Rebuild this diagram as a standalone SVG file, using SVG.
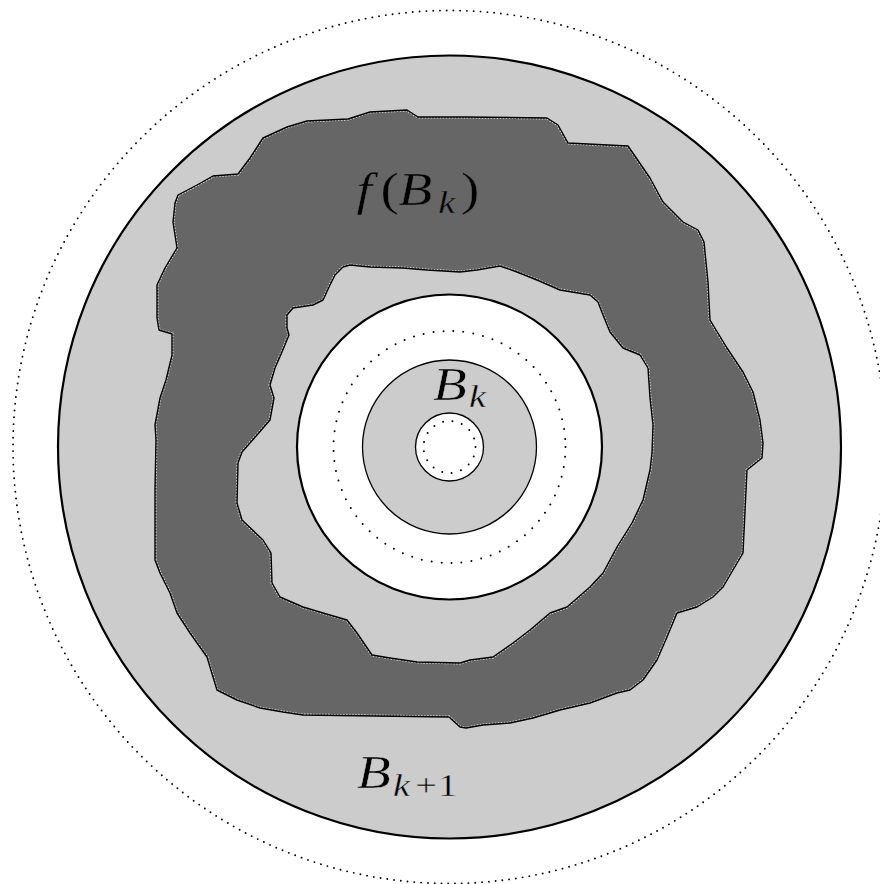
<svg xmlns="http://www.w3.org/2000/svg" width="880" height="884" viewBox="0 0 880 884">
<style>
.dot{fill:none;stroke:#000;stroke-linecap:round}
.lbl{font-family:"Liberation Serif","Times New Roman",serif;fill:#000;stroke-width:0.4;font-size:46px}
.it{font-style:italic}
.sub{font-size:32px}
</style>
<defs>
<path id="blobPath" fill-rule="evenodd" d="M155,560 L155,490 L156,440 L155,425 L160,398 L166,380 L172,355 L172,334 L159,330 L157,318 L157,285 L165,268 L177,248 L173,222 L175,203 L178,195 L197,185 L213,176 L238,174 L250,158 L263,138 L287,127 L307,121 L348,119 L370,112 L407,110 L418,117 L466,117 L547,118 L558,125 L568,143 L628,146 L650,178 L663,202 L683,222 L698,230 L704,242 L708,282 L710,320 L727,348 L743,372 L753,392 L760,420 L763,443 L762,458 L747,470 L743,553 L723,587 L713,597 L697,607 L677,613 L667,637 L657,660 L643,680 L630,690 L617,693 L590,703 L560,710 L533,718 L510,723 L483,725 L466,728 L460,727 L449,717 L303,715 L283,712 L260,708 L237,700 L217,690 L213,677 L207,657 L190,633 L177,613 L170,593 L160,573 Z M350,265 L370,267 L403,268 L427,270 L460,272 L477,270 L500,266 L517,272 L537,280 L560,290 L590,295 L598,302 L603,315 L610,332 L623,348 L640,355 L648,368 L650,398 L653,425 L652,453 L650,470 L643,500 L632,523 L617,547 L603,573 L590,587 L567,607 L550,613 L530,630 L513,643 L493,657 L470,660 L460,663 L417,662 L390,658 L372,655 L357,633 L347,620 L323,613 L303,607 L280,597 L272,583 L271,553 L263,540 L242,520 L237,503 L238,463 L242,452 L257,435 L270,420 L274,398 L270,385 L275,368 L282,352 L289,335 L287,328 L287,315 L293,308 L313,305 L323,300 L330,285 L335,275 L343,267 Z"/>
<clipPath id="blobClip"><use href="#blobPath" clip-rule="evenodd"/></clipPath>
</defs>
<g id="outer-dotted">
<circle cx="449.5" cy="447" r="436.5" class="dot" stroke-width="1.9" stroke-dasharray="0 6.8"/>
</g>
<g id="B-k-plus-1">
<circle cx="449.5" cy="447" r="391.5" fill="#cccccc" stroke="#000" stroke-width="2.2"/>
</g>
<g id="f-B-k">
<use href="#blobPath" fill="#666666"/>
<use href="#blobPath" fill="none" stroke="#e6e6e6" stroke-width="3" stroke-dasharray="1.5 1.5" clip-path="url(#blobClip)"/>
<use href="#blobPath" fill="none" stroke="#000" stroke-width="1.4" stroke-linejoin="round"/>
</g>
<g id="white-ring">
<circle cx="449.5" cy="447" r="152.5" fill="#ffffff" stroke="#000" stroke-width="2.2"/>
<circle cx="449.5" cy="447" r="116" class="dot" stroke-width="2" stroke-dasharray="0 10"/>
</g>
<g id="B-k">
<circle cx="449.5" cy="447" r="87" fill="#cccccc" stroke="#000" stroke-width="1.3"/>
</g>
<g id="inner-core">
<circle cx="449.5" cy="447" r="34" fill="#ffffff" stroke="#000" stroke-width="1.3"/>
<circle cx="449.5" cy="447" r="26" class="dot" stroke-width="2" stroke-dasharray="0 9.6"/>
</g>
<g id="labels">
<text class="lbl" transform="matrix(1.2,0,0,1,353,205)" stroke="#666666"><tspan class="it" x="3">f</tspan><tspan x="23">(</tspan><tspan class="it" x="38">B</tspan><tspan class="it sub" x="71" dy="8">k</tspan><tspan x="90" dy="-8">)</tspan></text>
<text class="lbl" transform="matrix(1.2,0,0,1,433,400)" stroke="#cccccc"><tspan class="it" x="0">B</tspan><tspan class="it sub" x="30" dy="7">k</tspan></text>
<text class="lbl" transform="matrix(1.2,0,0,1,357,788)" stroke="#cccccc"><tspan class="it" x="0">B</tspan><tspan class="it sub" x="30" dy="8">k</tspan><tspan class="sub" x="48.5">+</tspan><tspan class="sub" x="67.5">1</tspan></text>
</g>
</svg>
